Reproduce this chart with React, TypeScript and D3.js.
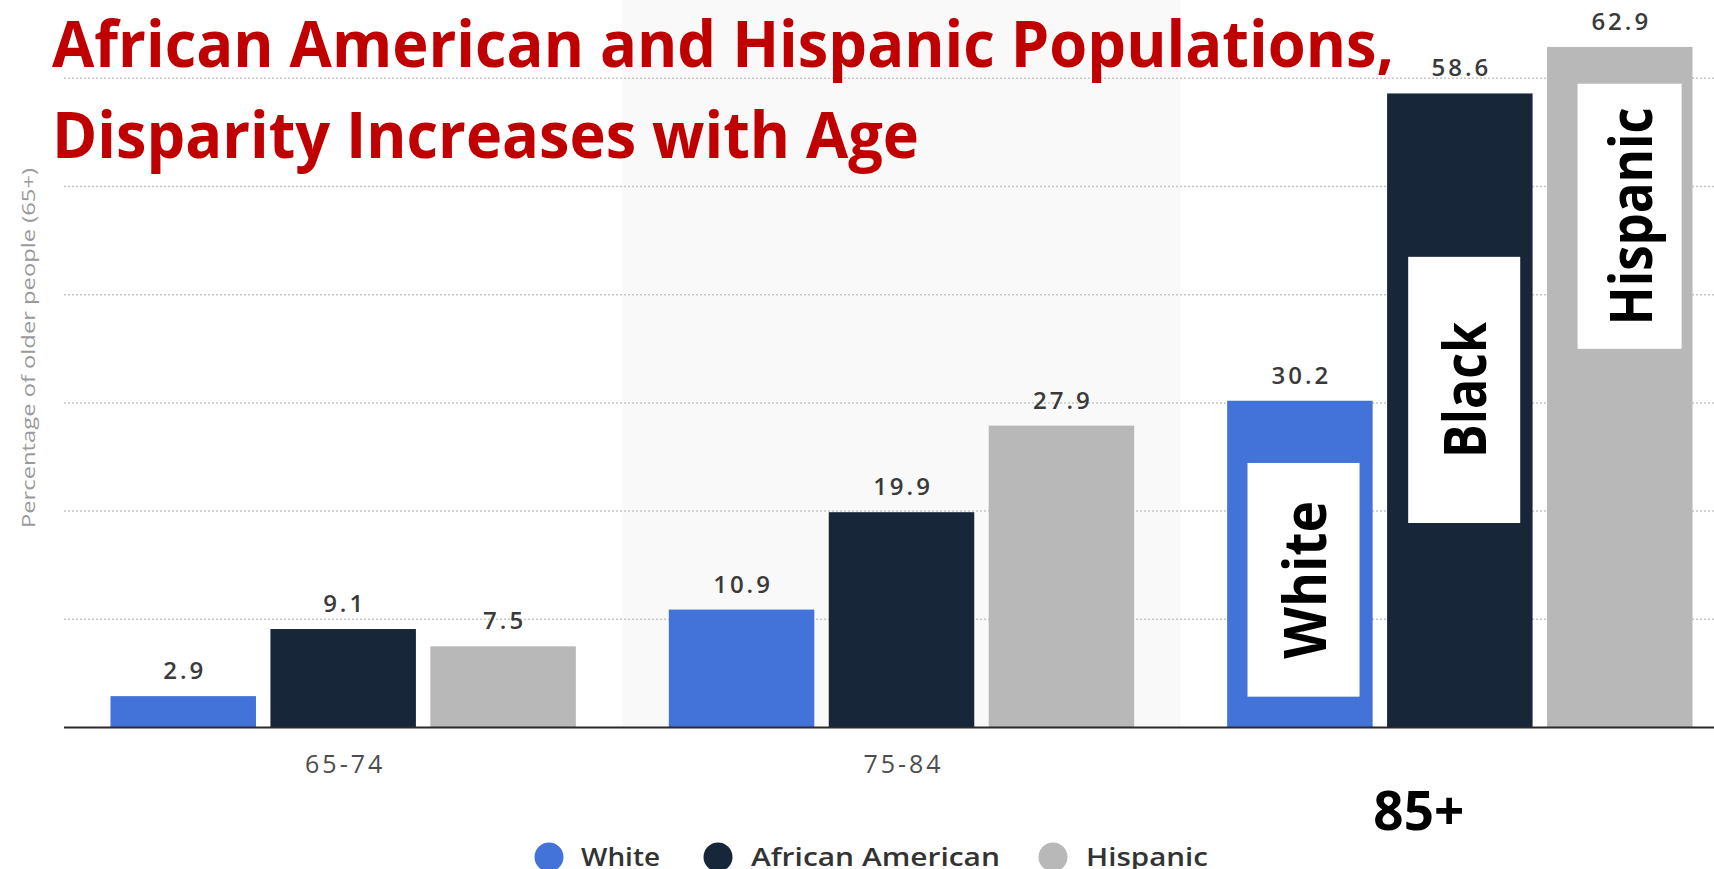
import React from "react";
import * as d3 from "d3";

// ---- data ----
const groups = ["65-74", "75-84", "85+"];
const seriesNames = ["White", "African American", "Hispanic"];
const whiteValues = [2.9, 10.9, 30.2];
const africanAmericanValues = [9.1, 19.9, 58.6];
const hispanicValues = [7.5, 27.9, 62.9];
const yTicks = [10, 20, 30, 40, 50, 60];
const titleLines = ["African American and Hispanic Populations,", "Disparity Increases with Age"];
const yAxisTitle = "Percentage of older people (65+)";
// annotation boxes on the 85+ group, in value units (bottom, top)
const boxLabels = ["White", "Black", "Hispanic"];
const boxBottoms = [2.85, 18.9, 35.0];
const boxTops = [24.45, 43.5, 59.5];

const seriesValues = [whiteValues, africanAmericanValues, hispanicValues];
const colors = ["#4373d8", "#172639", "#b8b8b8"];

const W = 1714;
const H = 869;
const FONT = "'Open Sans', 'Noto Sans', sans-serif";

export default function App() {
  const x0 = d3
    .scaleBand<string>()
    .domain(groups)
    .range([64, 1739])
    .paddingInner(0.1665)
    .paddingOuter(0.08325);
  const x1 = d3
    .scaleBand<string>()
    .domain(seriesNames)
    .range([0, x0.bandwidth()])
    .paddingInner(0.0903)
    .paddingOuter(0);
  const y = d3.scaleLinear().domain([0, 60]).range([727.5, 78.3]);

  const step = x0.step();
  const padHalf = (step - x0.bandwidth()) / 2;

  const boxInsets = [
    [0.14, 0.91],
    [0.145, 0.915],
    [0.21, 0.925],
  ];

  const lastGroup = groups[2];

  return (
    <svg
      width={W}
      height={H}
      style={{ position: "absolute", left: 0, top: 0, display: "block", background: "#fff" }}
    >
      {/* shaded band behind middle group */}
      <rect
        x={(x0(groups[1]) as number) - padHalf}
        y={0}
        width={step}
        height={y(0)}
        fill="#f9f9f9"
      />
      {/* gridlines */}
      {yTicks.map((t) => (
        <line
          key={t}
          x1={64}
          x2={W}
          y1={y(t)}
          y2={y(t)}
          stroke="#c6c6c6"
          strokeWidth={1.5}
          strokeDasharray="2 2"
        />
      ))}
      {/* bars */}
      {groups.map((g, gi) =>
        seriesNames.map((s, si) => {
          const v = seriesValues[si][gi];
          const bx = (x0(g) as number) + (x1(s) as number);
          return (
            <g key={g + s}>
              <rect x={bx} y={y(v)} width={x1.bandwidth()} height={y(0) - y(v)} fill={colors[si]} />
              <text
                x={bx + x1.bandwidth() / 2 + 1.5}
                y={y(v) - 17}
                textAnchor="middle"
                fontFamily={FONT}
                fontWeight={600}
                fontSize={24}
                letterSpacing={3}
                fill="#3a3a3a"
              >
                {v.toFixed(1)}
              </text>
            </g>
          );
        })
      )}
      {/* baseline axis */}
      <line x1={64} x2={W} y1={y(0)} y2={y(0)} stroke="#2b2b2b" strokeWidth={2} />
      {/* tick labels */}
      {groups.slice(0, 2).map((g) => (
        <text
          key={g}
          x={(x0(g) as number) + x0.bandwidth() / 2 + 2}
          y={773}
          textAnchor="middle"
          fontFamily={FONT}
          fontSize={25}
          letterSpacing={3}
          fill="#4d4d4d"
        >
          {g}
        </text>
      ))}
      <text
        x={(x0(lastGroup) as number) + x0.bandwidth() / 2 - 41}
        y={830}
        textAnchor="middle"
        fontFamily={FONT}
        fontWeight={700}
        fontSize={53}
        fill="#000"
      >
        {lastGroup}
      </text>
      {/* annotation boxes */}
      {boxLabels.map((lab, i) => {
        const bx = (x0(lastGroup) as number) + (x1(seriesNames[i]) as number);
        const bw = x1.bandwidth();
        const left = bx + bw * boxInsets[i][0];
        const right = bx + bw * boxInsets[i][1];
        const top = y(boxTops[i]);
        const bottom = y(boxBottoms[i]);
        const cx = (left + right) / 2;
        const cy = (top + bottom) / 2;
        const lens = [158, 136, 218];
        return (
          <g key={lab}>
            <rect x={left} y={top} width={right - left} height={bottom - top} fill="#fff" />
            <text
              transform={`translate(${cx + 22},${cy}) rotate(-90)`}
              textAnchor="middle"
              fontFamily={FONT}
              fontWeight={700}
              fontSize={59}
              textLength={lens[i]}
              lengthAdjust="spacingAndGlyphs"
              fill="#000"
            >
              {lab}
            </text>
          </g>
        );
      })}
      {/* y axis title */}
      <text
        transform={`translate(34.5,348) rotate(-90)`}
        textAnchor="middle"
        fontFamily={FONT}
        fontSize={18}
        textLength={360}
        lengthAdjust="spacingAndGlyphs"
        fill="#9a9a9a"
      >
        {yAxisTitle}
      </text>
      {/* title */}
      <text
        x={52}
        y={67}
        fontFamily={FONT}
        fontWeight={700}
        fontSize={64}
        textLength={1342}
        lengthAdjust="spacingAndGlyphs"
        fill="#c00000"
      >
        {titleLines[0]}
      </text>
      <text
        x={52}
        y={158}
        fontFamily={FONT}
        fontWeight={700}
        fontSize={64}
        textLength={867}
        lengthAdjust="spacingAndGlyphs"
        fill="#c00000"
      >
        {titleLines[1]}
      </text>
      {/* legend */}
      {seriesNames.map((s, i) => {
        const dotX = [549, 718, 1053][i];
        const textX = [581, 751, 1086][i];
        const lens = [79, 249, 122];
        return (
          <g key={s}>
            <circle cx={dotX} cy={857} r={14.5} fill={colors[i]} />
            <text
              x={textX}
              y={866}
              fontFamily={FONT}
              fontWeight={600}
              fontSize={26}
              textLength={lens[i]}
              lengthAdjust="spacingAndGlyphs"
              fill="#333"
            >
              {s}
            </text>
          </g>
        );
      })}
    </svg>
  );
}
